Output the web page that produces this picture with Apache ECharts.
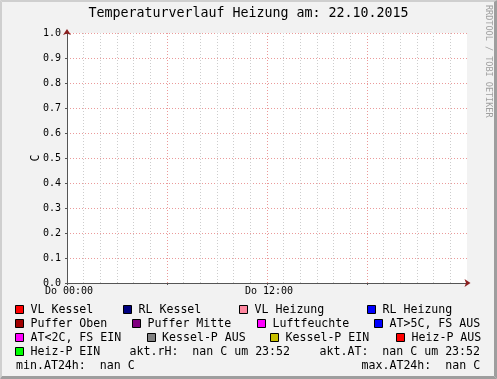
<!DOCTYPE html>
<html><head><meta charset="utf-8">
<script src="https://cdn.jsdelivr.net/npm/echarts@6/dist/echarts.min.js"></script>
<style>html,body{margin:0;padding:0;background:#f2f2f2;overflow:hidden}#c{width:497px;height:379px}</style>
</head><body><div id="c"></div>
<script>
// ---- data ----
const titleText = 'Temperaturverlauf Heizung am: 22.10.2015';
const xRange = [0, 24];                 // hours of 22.10.2015 (Do)
const xTickLabels = { 0: 'Do 00:00', 12: 'Do 12:00' };
const yRange = [0, 1];
const yAxisTitle = 'C';
const creditText = 'RRDTOOL / TOBI OETIKER';
const seriesNames = ['VL Kessel', 'RL Kessel', 'VL Heizung', 'RL Heizung',
  'Puffer Oben', 'Puffer Mitte', 'Luftfeuchte', 'AT>5C, FS AUS',
  'AT<2C, FS EIN', 'Kessel-P AUS', 'Kessel-P EIN', 'Heiz-P AUS', 'Heiz-P EIN'];
const seriesColors = ['#ff0000', '#000080', '#ff88a0', '#0000ff',
  '#a00000', '#800080', '#ff00ff', '#0000ff',
  '#ff00ff', '#808080', '#c8c000', '#ff0000', '#00ff00'];
// all values are NaN in the source -> nothing plotted
const seriesValues = [[], [], [], [], [], [], [], [], [], [], [], [], []];
const statsRow4 = ['akt.rH:  nan C um 23:52', 'akt.AT:  nan C um 23:52'];
const statsRow5 = ['min.AT24h:  nan C', 'max.AT24h:  nan C'];

// ---- layout ----
const MONO = '"DejaVu Sans Mono", monospace';
const legFont = '11.6px ' + MONO;
const rowY = [309.7, 323.9, 337.9, 351.9, 366];
const legendRows = [
  { idx: [0, 1, 2, 3], tx: [30.5, 138.5, 254.5, 382.5] },
  { idx: [4, 5, 6, 7], tx: [30.5, 147.5, 272.5, 389.5] },
  { idx: [8, 9, 10, 11], tx: [30.5, 162, 285.5, 411.5] },
  { idx: [12], tx: [30.5] }
];
const graphics = [
  { type: 'polygon', shape: { points: [[0,0],[497,0],[495,2],[2,2]] }, style: { fill: '#cfcfcf' }, silent: true },
  { type: 'polygon', shape: { points: [[0,0],[2,2],[2,376],[0,379]] }, style: { fill: '#cfcfcf' }, silent: true },
  { type: 'polygon', shape: { points: [[497,0],[497,379],[494,376],[494,2]] }, style: { fill: '#9e9e9e' }, silent: true },
  { type: 'polygon', shape: { points: [[0,379],[497,379],[494,376],[2,376]] }, style: { fill: '#9e9e9e' }, silent: true },
  { type: 'text', x: 36, y: 158, rotation: Math.PI / 2,
    style: { text: yAxisTitle, font: legFont, fill: '#000', align: 'center', verticalAlign: 'middle' } },
  { type: 'text', x: 488.5, y: 5, rotation: -Math.PI / 2,
    style: { text: creditText, font: '8.5px ' + MONO, fill: '#a0a0a0', align: 'left', verticalAlign: 'middle' } }
];
legendRows.forEach((row, r) => {
  const cy = rowY[r];
  row.idx.forEach((si, k) => {
    const tx = row.tx[k];
    const bx = Math.round(tx - 15.5);
    graphics.push({ type: 'rect', shape: { x: bx + 0.5, y: Math.round(cy - 5) + 0.5, width: 8, height: 8 },
      style: { fill: seriesColors[si], stroke: '#000', lineWidth: 1 } });
    graphics.push({ type: 'text', x: tx, y: cy,
      style: { text: seriesNames[si], font: legFont, fill: '#000', align: 'left', verticalAlign: 'middle' } });
  });
});
graphics.push({ type: 'text', x: 129.5, y: rowY[3], style: { text: statsRow4[0], font: legFont, fill: '#000', verticalAlign: 'middle' } });
graphics.push({ type: 'text', x: 319.5, y: rowY[3], style: { text: statsRow4[1], font: legFont, fill: '#000', verticalAlign: 'middle' } });
graphics.push({ type: 'text', x: 16, y: rowY[4], style: { text: statsRow5[0], font: legFont, fill: '#000', verticalAlign: 'middle' } });
graphics.push({ type: 'text', x: 361.5, y: rowY[4], style: { text: statsRow5[1], font: legFont, fill: '#000', verticalAlign: 'middle' } });

const gridRed = '#eb9a9a';
const gridGray = '#cdcdcd';
const axisCol = '#555555';
const arrowCol = '#8b1f1f';

const chart = echarts.init(document.getElementById('c'), null, { renderer: 'canvas' });
chart.setOption({
  animation: false,
  backgroundColor: '#f2f2f2',
  title: { text: titleText, left: 'center', top: 6, padding: 0,
    textStyle: { fontFamily: MONO, fontSize: 13.3, fontWeight: 'normal', color: '#000', lineHeight: 16 } },
  grid: { left: 67, top: 33, width: 400, height: 250, show: true, backgroundColor: '#ffffff', borderWidth: 0 },
  xAxis: [{
    type: 'value', min: xRange[0], max: xRange[1], interval: 6,
    axisLine: { show: true, lineStyle: { color: axisCol, width: 1 } },
    axisTick: { show: true, length: 2, lineStyle: { color: axisCol } },
    axisLabel: { margin: 3, padding: [0, 0, 0, 4], fontFamily: MONO, fontSize: 10, color: '#000',
      formatter: v => xTickLabels[v] || '', showMaxLabel: false },
    splitLine: { show: true, showMaxLine: false, lineStyle: { color: gridRed, width: 1, type: [1, 2] } },
    minorTick: { show: false, splitNumber: 6 },
    minorSplitLine: { show: true, lineStyle: { color: gridGray, width: 1, type: [1, 2] } }
  }, {
    type: 'value', min: xRange[0], max: xRange[1], position: 'bottom', gridIndex: 0,
    axisLine: { show: true, symbol: ['none', 'arrow'], symbolSize: [6, 6], symbolOffset: [0, 3.5],
      lineStyle: { color: arrowCol, width: 0 } },
    axisTick: { show: false }, axisLabel: { show: false }, splitLine: { show: false }
  }],
  yAxis: [{
    type: 'value', min: yRange[0], max: yRange[1], interval: 0.1,
    axisLine: { show: true, lineStyle: { color: axisCol, width: 1 } },
    axisTick: { show: true, length: 2, lineStyle: { color: axisCol } },
    axisLabel: { margin: 6, fontFamily: MONO, fontSize: 10, color: '#000', formatter: v => v.toFixed(1) },
    splitLine: { show: true, lineStyle: { color: gridRed, width: 1, type: [1, 2] } }
  }, {
    type: 'value', min: yRange[0], max: yRange[1], position: 'left', gridIndex: 0,
    axisLine: { show: true, symbol: ['none', 'arrow'], symbolSize: [6, 6], symbolOffset: [0, 4],
      lineStyle: { color: arrowCol, width: 0 } },
    axisTick: { show: false }, axisLabel: { show: false }, splitLine: { show: false }
  }],
  series: seriesNames.map((n, i) => ({
    name: n, type: 'line', xAxisIndex: 0, yAxisIndex: 0, color: seriesColors[i],
    showSymbol: false, data: seriesValues[i]
  })),
  graphic: graphics
});
</script>
</body></html>
